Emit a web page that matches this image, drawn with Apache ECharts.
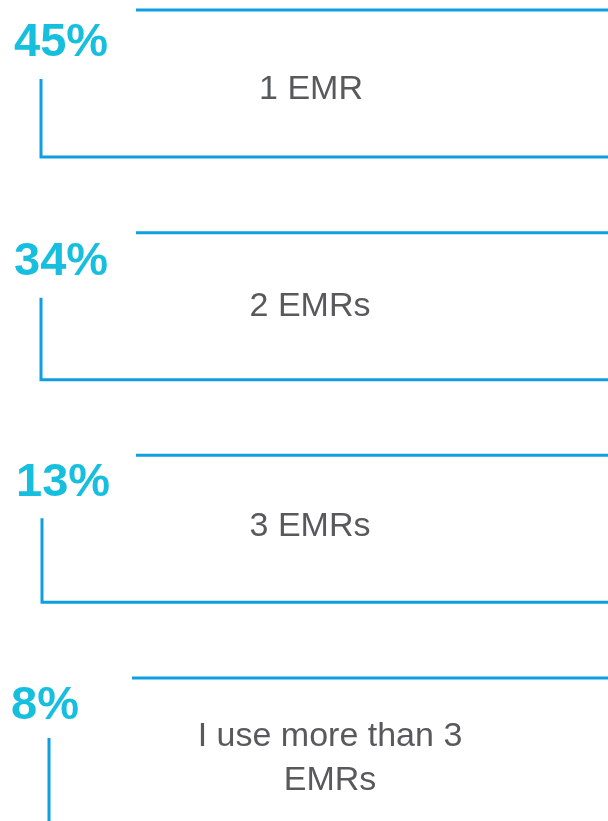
<!DOCTYPE html>
<html>
<head>
<meta charset="utf-8">
<style>
  html, body { margin: 0; padding: 0; background: #fff; }
  #main { width: 608px; height: 821px; }
</style>
<script src="https://cdn.jsdelivr.net/npm/echarts@6/dist/echarts.min.js"></script>
</head>
<body>
<div id="main"></div>
<script>
// answers and their share of respondents
let categories = ['1 EMR', '2 EMRs', '3 EMRs', 'I use more than 3\nEMRs'];
let shares = [45, 34, 13, 8];

// small hand nudges so each block sits like the original slide
let nudges = [
    { pct: 4, label: 6, vTop: 5, vx: 41, hx: 136, pctX: 14, labelX: 311 },
    { pct: 0, label: 0, vTop: 1, vx: 41, hx: 136, pctX: 14, labelX: 310 },
    { pct: -1, label: -3, vTop: -1, vx: 42, hx: 136, pctX: 16, labelX: 310 },
    { pct: -1, label: 7, vTop: -4, vx: 49, hx: 132, pctX: 11, labelX: 330 }
];

let lineColor = '#0f9fe0';
let pctColor = '#17bfde';
let textColor = '#58595b';
let font = '"Liberation Sans", Arial, sans-serif';

let myChart = echarts.init(document.getElementById('main'));

function renderBlock(params, api) {
    let i = api.value(0);
    let top = api.coord([0, i])[1];
    let w = api.getWidth();
    let idx = params.dataIndex;
    let n = nudges[idx];
    return {
        type: 'group',
        children: [
            {
                type: 'line',
                shape: { x1: n.hx, y1: top, x2: w, y2: top },
                style: { stroke: lineColor, lineWidth: 3 }
            },
            {
                type: 'polyline',
                shape: { points: [[n.vx, top + 64 + n.vTop], [n.vx, top + 147], [w, top + 147]] },
                style: { stroke: lineColor, lineWidth: 3, fill: null }
            },
            {
                type: 'text',
                style: {
                    x: n.pctX, y: top + 29 + n.pct,
                    text: api.value(1) + '%',
                    fill: pctColor,
                    font: 'bold 47px ' + font,
                    align: 'left', verticalAlign: 'middle'
                }
            },
            {
                type: 'text',
                style: {
                    x: n.labelX, y: top + 74 + n.label,
                    text: categories[idx],
                    fill: textColor,
                    font: '34px ' + font,
                    lineHeight: 44,
                    align: 'center', verticalAlign: 'middle'
                }
            }
        ]
    };
}

let option = {
    animation: false,
    grid: { left: 0, right: 0, top: 10, bottom: 143 },
    xAxis: { type: 'value', min: 0, max: 1, show: false },
    yAxis: { type: 'value', min: 0, max: 3, inverse: true, show: false },
    series: [
        {
            type: 'custom',
            clip: false,
            renderItem: renderBlock,
            data: shares.map((v, i) => ({ name: categories[i], value: [i, v] }))
        }
    ]
};

myChart.setOption(option);
</script>
</body>
</html>
